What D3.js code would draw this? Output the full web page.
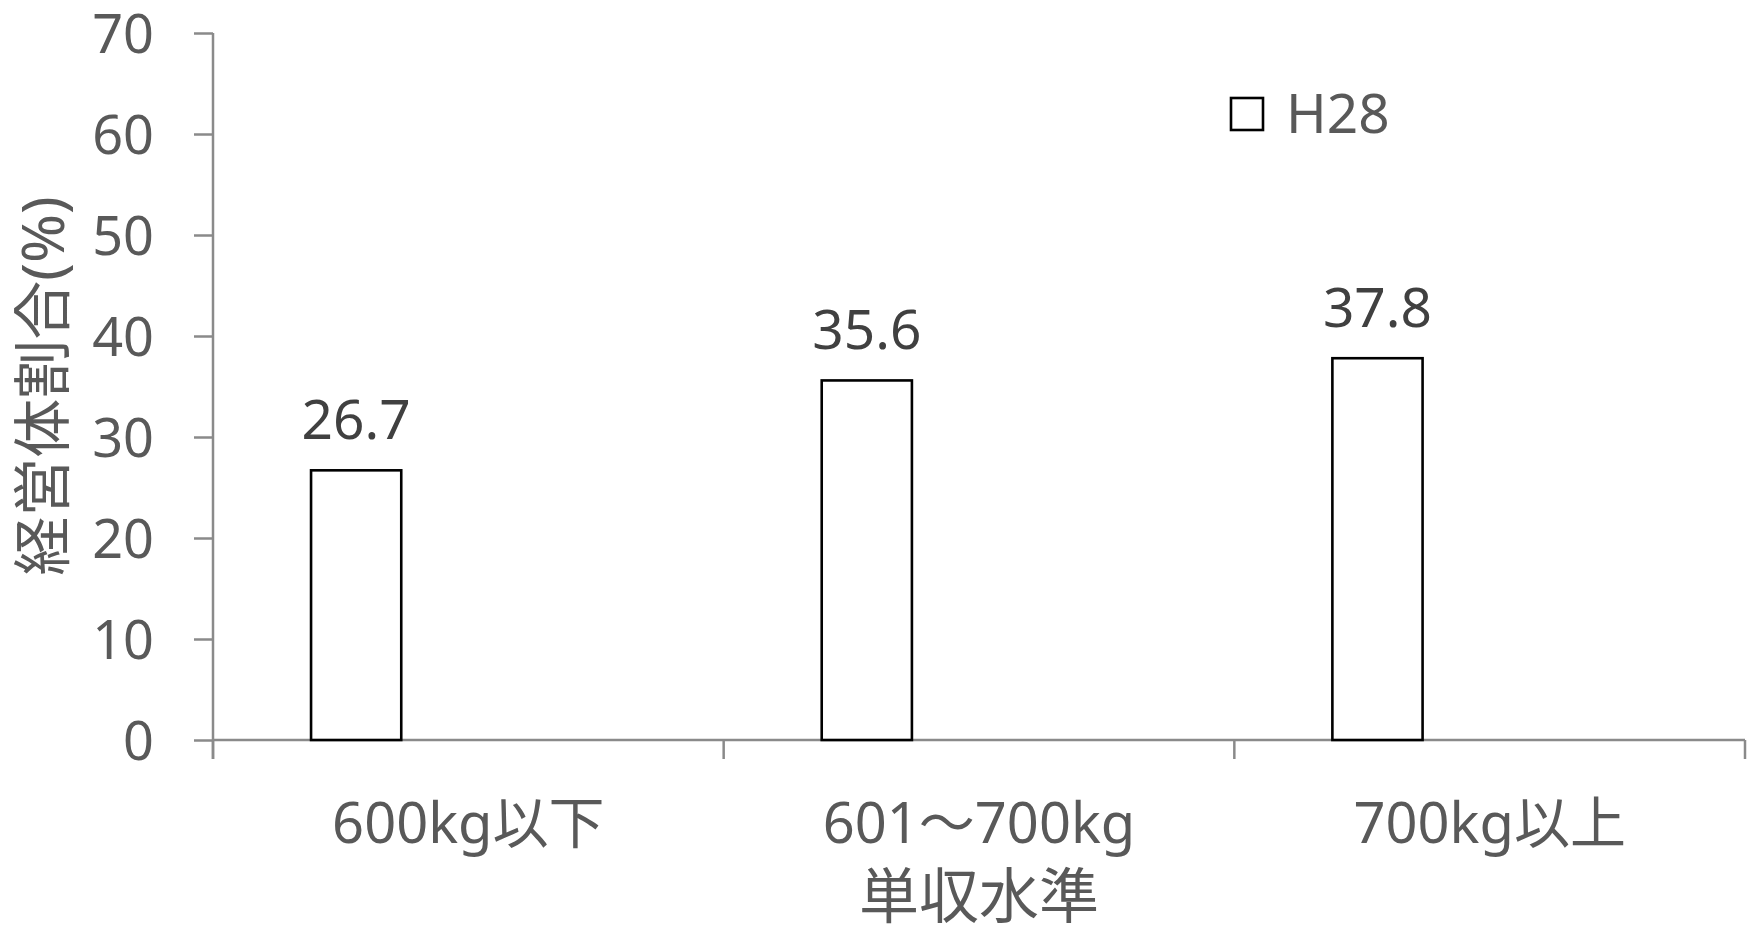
<!DOCTYPE html>
<html>
<head>
<meta charset="utf-8">
<script src="https://cdn.jsdelivr.net/npm/d3@7"></script>
<style>
  html, body { margin: 0; padding: 0; background: #fff; }
  svg { display: block; }
  text { font-family: "Noto Sans", "Noto Sans CJK JP", sans-serif; }
</style>
</head>
<body>
<svg id="chart" width="1752" height="931"></svg>
<script>
// Share of farm operations by yield level
const categories = ["600kg以下", "601～700kg", "700kg以上"];
const seriesNames = ["H28", "s2", "s3"];
const valuesH28 = [26.7, 35.6, 37.8];
const valuesS2 = [0, 0, 0];
const valuesS3 = [0, 0, 0];
const yTicks = [0, 10, 20, 30, 40, 50, 60, 70];
const yTitle = "経営体割合(%)";
const xTitle = "単収水準";
const legendLabel = "H28";

const seriesValues = { H28: valuesH28, s2: valuesS2, s3: valuesS3 };

const svg = d3.select("#chart");
const plot = { left: 213, right: 1745, top: 33, bottom: 740 };

const y = d3.scaleLinear().domain([0, 70]).range([plot.bottom, plot.top]);
const x0 = d3.scaleBand().domain(categories).range([plot.left, plot.right]).padding(0);
const bw = x0.bandwidth();
const x1 = d3.scaleBand().domain(seriesNames)
  .range([bw * 0.192, bw * 0.808]).paddingInner(0.196);

const axisColor = "#8a8a8a";
const tickText = "#595959";

// y axis
const yAxis = svg.append("g")
  .attr("transform", `translate(${plot.left},0)`)
  .call(d3.axisLeft(y).tickValues(yTicks).tickSize(19).tickPadding(40).tickSizeOuter(0));
yAxis.select(".domain").remove();
yAxis.selectAll(".tick line").attr("stroke", axisColor).attr("stroke-width", 2.5);
yAxis.selectAll(".tick text")
  .attr("fill", tickText).attr("font-size", 54).attr("dy", "0.36em");
svg.append("line")
  .attr("x1", plot.left).attr("x2", plot.left)
  .attr("y1", plot.top).attr("y2", plot.bottom + 19)
  .attr("stroke", axisColor).attr("stroke-width", 2.5);

// x axis baseline and category dividers
svg.append("line")
  .attr("x1", plot.left).attr("x2", plot.right)
  .attr("y1", plot.bottom).attr("y2", plot.bottom)
  .attr("stroke", axisColor).attr("stroke-width", 2.5);
const dividers = categories.map(c => x0(c)).concat([x0(categories[categories.length - 1]) + bw]);
svg.append("g").selectAll("line").data(dividers).join("line")
  .attr("x1", d => d).attr("x2", d => d)
  .attr("y1", plot.bottom).attr("y2", plot.bottom + 19)
  .attr("stroke", axisColor).attr("stroke-width", 2.5);

// bars
const groups = svg.append("g").selectAll("g").data(categories).join("g")
  .attr("transform", d => `translate(${x0(d)},0)`);

groups.selectAll("rect.zero")
  .data((c, i) => ["s2", "s3"].map(s => ({ s, v: seriesValues[s][i] })))
  .join("rect").attr("class", "zero")
  .attr("x", d => x1(d.s)).attr("width", x1.bandwidth())
  .attr("y", d => y(d.v)).attr("height", d => y(0) - y(d.v))
  .attr("fill", "none").attr("stroke", "#777").attr("stroke-width", 1.5);

groups.append("rect")
  .attr("x", x1("H28")).attr("width", x1.bandwidth())
  .attr("y", (c, i) => y(valuesH28[i]))
  .attr("height", (c, i) => y(0) - y(valuesH28[i]))
  .attr("fill", "#fff").attr("stroke", "#000").attr("stroke-width", 2.6);

// value labels
groups.append("text")
  .attr("x", x1("H28") + x1.bandwidth() / 2)
  .attr("y", (c, i) => y(valuesH28[i]) - 31)
  .attr("text-anchor", "middle")
  .attr("font-size", 55).attr("fill", "#404040")
  .text((c, i) => valuesH28[i].toFixed(1));

// category labels
svg.append("g").selectAll("text").data(categories).join("text")
  .attr("x", d => x0(d) + bw / 2).attr("y", 843)
  .attr("text-anchor", "middle").attr("font-size", 56).attr("fill", tickText)
  .text(d => d);

// axis titles
svg.append("text")
  .attr("x", (plot.left + plot.right) / 2).attr("y", 918)
  .attr("text-anchor", "middle").attr("font-size", 60).attr("fill", tickText)
  .text(xTitle);

svg.append("text")
  .attr("transform", `translate(64,386) rotate(-90)`)
  .attr("text-anchor", "middle").attr("font-size", 59).attr("fill", tickText)
  .text(yTitle);

// legend
const legend = svg.append("g").attr("transform", "translate(1231,98)");
legend.append("rect").attr("width", 32).attr("height", 32)
  .attr("fill", "#fff").attr("stroke", "#000").attr("stroke-width", 2.6);
legend.append("text").attr("x", 55).attr("y", 35)
  .attr("font-size", 55).attr("fill", tickText).text(legendLabel);
</script>
</body>
</html>
